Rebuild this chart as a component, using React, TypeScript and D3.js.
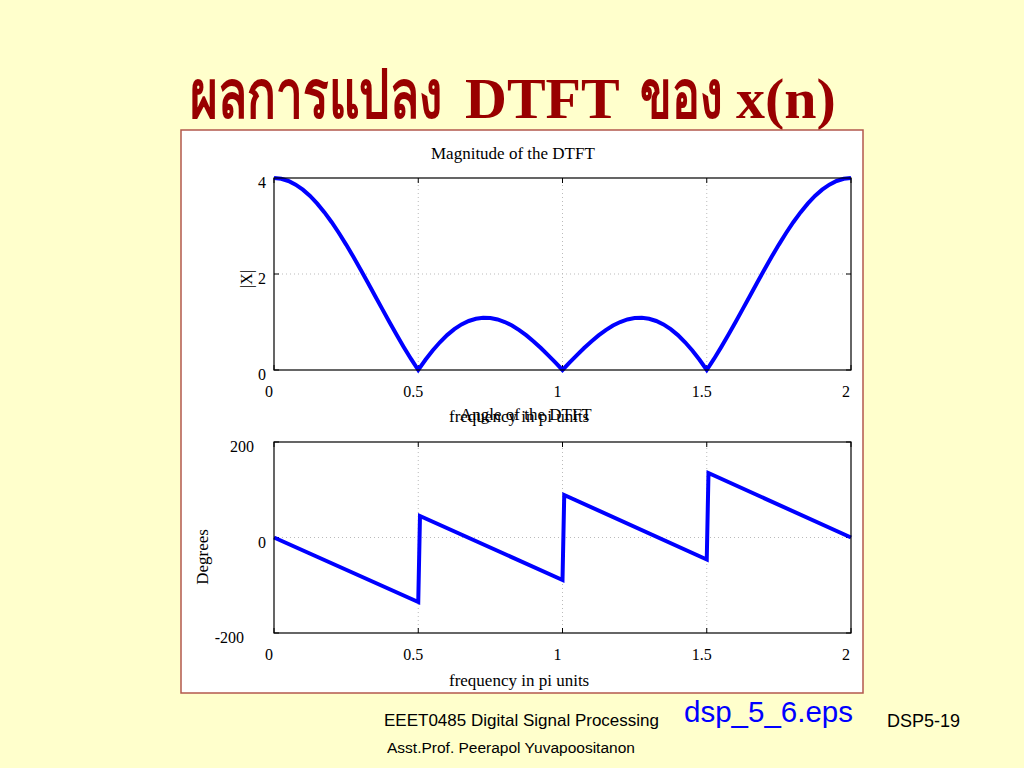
import React from "react";
import * as d3 from "d3";

// ---- data ----
const xTicks = [0, 0.5, 1, 1.5, 2];
const xTickLabels = ["0", "0.5", "1", "1.5", "2"];
const magTicks = [0, 2, 4];
const magTickLabels = ["0", "2", "4"];
const phaseTicks = [-200, 0, 200];
const phaseTickLabels = ["-200", "0", "200"];

// magnitude |X| sampled every 0.025 (pi units) from 0 to 2
const magStep = 0.025;
const magValues = [
  4, 3.985, 3.938, 3.862, 3.757, 3.625, 3.466, 3.283, 3.078, 2.854, 2.613,
  2.359, 2.095, 1.824, 1.548, 1.273, 1.0, 0.733, 0.476, 0.23, 0,
  0.213, 0.406, 0.578, 0.727, 0.85, 0.949, 1.021, 1.067, 1.088, 1.082,
  1.053, 1.0, 0.926, 0.832, 0.721, 0.595, 0.457, 0.31, 0.157, 0,
  0.157, 0.31, 0.457, 0.595, 0.721, 0.832, 0.926, 1.0, 1.053, 1.082,
  1.088, 1.067, 1.021, 0.949, 0.85, 0.727, 0.578, 0.406, 0.213, 0,
  0.23, 0.476, 0.733, 1.0, 1.273, 1.548, 1.824, 2.095, 2.359, 2.613,
  2.854, 3.078, 3.283, 3.466, 3.625, 3.757, 3.862, 3.938, 3.985, 4,
];

// phase (degrees) breakpoints
const phaseFreq = [0, 0.5, 0.506, 1, 1.006, 1.5, 1.506, 2];
const phaseDeg = [0, -135, 45, -89, 89, -46, 135, 0];

const titleParts = ["ผลการแปลง", "DTFT", "ของ", "x(n)"];
const magTitle = "Magnitude of the DTFT";
const phaseTitle = "Angle of the DTFT";
const xLabel = "frequency in pi units";
const magYLabel = "|X|";
const phaseYLabel = "Degrees";

const serif = "'Liberation Serif', 'Times New Roman', serif";
const sans = "'Liberation Sans', Arial, sans-serif";

export default function App() {
  const x = d3.scaleLinear().domain([0, 2]).range([274, 851]);
  const yMag = d3.scaleLinear().domain([0, 4]).range([370, 178]);
  const yPh = d3.scaleLinear().domain([-200, 200]).range([633, 442]);

  const magLine = d3
    .line<number>()
    .x((_, i) => x(i * magStep))
    .y((d) => yMag(d));
  const phLine = d3
    .line<number>()
    .x((_, i) => x(phaseFreq[i]))
    .y((d) => yPh(d));

  const gridStyle = { stroke: "#bbbbbb", strokeWidth: 1, strokeDasharray: "1,3" };

  const panel = (
    y: d3.ScaleLinear<number, number>,
    yTicks: number[],
    yLabels: string[],
    yGrid: number[],
    yLabelDx: (i: number) => number,
    path: string,
    key: string
  ) => {
    const [y0, y1] = y.range();
    return (
      <g key={key}>
        {xTicks.slice(1, -1).map((t) => (
          <line key={"gx" + t} x1={x(t)} x2={x(t)} y1={y0} y2={y1} style={gridStyle} />
        ))}
        {yGrid.map((t) => (
          <line key={"gy" + t} x1={x(0)} x2={x(2)} y1={y(t)} y2={y(t)} style={gridStyle} />
        ))}
        {xTicks.map((t) => (
          <g key={"tx" + t}>
            <line x1={x(t)} x2={x(t)} y1={y0} y2={y0 - 5} stroke="#000" />
            <line x1={x(t)} x2={x(t)} y1={y1} y2={y1 + 5} stroke="#000" />
          </g>
        ))}
        {yTicks.map((t) => (
          <g key={"ty" + t}>
            <line x1={x(0)} x2={x(0) + 5} y1={y(t)} y2={y(t)} stroke="#000" />
            <line x1={x(2)} x2={x(2) - 5} y1={y(t)} y2={y(t)} stroke="#000" />
          </g>
        ))}
        <path d={path} fill="none" stroke="#0000ff" strokeWidth={4} strokeLinejoin="miter" />
        <rect x={x(0)} y={y1} width={x(2) - x(0)} height={y0 - y1} fill="none" stroke="#000" strokeWidth={1.2} />
        {xTicks.map((t, i) => (
          <text key={"lx" + t} x={x(t) - 5} y={y0 + 27} textAnchor="middle" fontFamily={serif} fontSize={16}>
            {xTickLabels[i]}
          </text>
        ))}
        {yTicks.map((t, i) => (
          <text key={"ly" + t} x={x(0) - 8 + yLabelDx(i)} y={y(t) + 10} textAnchor="end" fontFamily={serif} fontSize={16}>
            {yLabels[i]}
          </text>
        ))}
      </g>
    );
  };

  return (
    <svg width={1024} height={768} style={{ position: "absolute", left: 0, top: 0 }}>
      <rect x={0} y={0} width={1024} height={768} fill="#ffffcc" />
      <g fontFamily={serif} fontWeight="bold" fill="#990000">
        <text transform="translate(190,118) scale(0.7,1)" fontSize={68}>{titleParts[0]}</text>
        <text x={465} y={118} fontSize={58}>{titleParts[1]}</text>
        <text transform="translate(640,118) scale(0.68,1)" fontSize={68}>{titleParts[2]}</text>
        <text x={736} y={118} fontSize={58}>{titleParts[3]}</text>
      </g>
      <rect x={181} y={130} width={682} height={563} fill="#ffffff" stroke="#b3584d" strokeWidth={1.5} />

      <text x={431} y={159} fontFamily={serif} fontSize={17}>{magTitle}</text>
      {panel(yMag, magTicks, magTickLabels, [2], () => 0, magLine(magValues) || "", "mag")}
      <text x={449} y={422} fontFamily={serif} fontSize={17}>{xLabel}</text>
      <text transform="translate(252,279) rotate(-90)" textAnchor="middle" fontFamily={serif} fontSize={16}>
        {magYLabel}
      </text>

      <text x={460} y={420} fontFamily={serif} fontSize={17}>{phaseTitle}</text>
      {panel(yPh, phaseTicks, phaseTickLabels, [0], (i) => [-22, 0, -12][i], phLine(phaseDeg) || "", "ph")}
      <text x={449} y={686} fontFamily={serif} fontSize={17}>{xLabel}</text>
      <text transform="translate(208,557) rotate(-90)" textAnchor="middle" fontFamily={serif} fontSize={17}>
        {phaseYLabel}
      </text>

      <text x={384} y={726} fontFamily={sans} fontSize={17}>EEET0485 Digital Signal Processing</text>
      <text x={684} y={722} fontFamily={sans} fontSize={29.5} fill="#0000ff">dsp_5_6.eps</text>
      <text x={887} y={727} fontFamily={sans} fontSize={18}>DSP5-19</text>
      <text x={387} y={753} fontFamily={sans} fontSize={15.5}>Asst.Prof. Peerapol Yuvapoositanon</text>
    </svg>
  );
}
